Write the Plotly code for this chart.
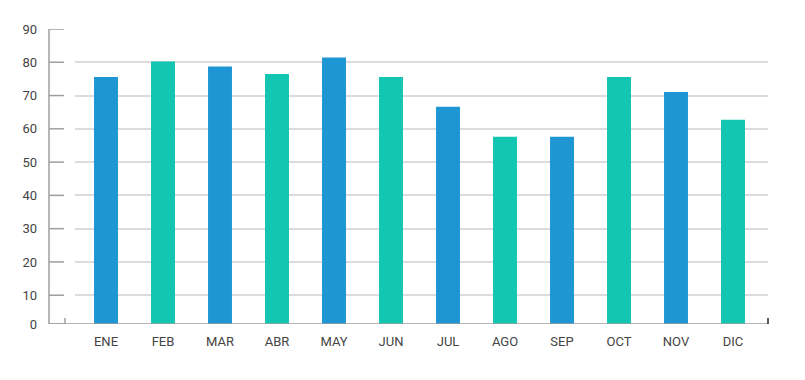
import plotly.graph_objects as go

months = ["ENE", "FEB", "MAR", "ABR", "MAY", "JUN", "JUL", "AGO", "SEP", "OCT", "NOV", "DIC"]
values = [75.6, 80.2, 78.7, 76.5, 81.4, 75.6, 66.6, 57.6, 57.6, 75.6, 71.1, 62.7]
y_ticks = [0, 10, 20, 30, 40, 50, 60, 70, 80, 90]
y_tick_labels = [str(v) for v in y_ticks]

BLUE = "#1F96D4"
TEAL = "#12C6B2"
colors = [BLUE if i % 2 == 0 else TEAL for i in range(len(months))]

OFF = 8  # default page body margin
W, H = 805, 380
PLOT_L, PLOT_R, PLOT_T, PLOT_B = 75, 768, 29, 324
L = PLOT_L - OFF
R = OFF + W - PLOT_R
T = PLOT_T - OFF
B = OFF + H - PLOT_B
PW = PLOT_R - PLOT_L
PH = PLOT_B - PLOT_T

Y_BASE = 1.35  # baseline of the drawn axis
y_min, y_max = Y_BASE, 90

fig = go.Figure(
    go.Bar(
        x=months,
        y=values,
        marker=dict(color=colors, line=dict(width=0)),
        width=0.42,
        hoverinfo="x+y",
    )
)

def px_to_paper_x(p):
    return (p - PLOT_L) / PW

tick_pos = [max(v, Y_BASE) for v in y_ticks]

shapes = []
axis_x = px_to_paper_x(49)
tick_end = px_to_paper_x(64)
# y axis line
shapes.append(dict(type="line", xref="paper", yref="y", x0=axis_x, x1=axis_x,
                   y0=y_min, y1=y_max, line=dict(color="#9e9e9e", width=1.5)))
# y axis ticks
for tp in tick_pos:
    shapes.append(dict(type="line", xref="paper", yref="y", x0=axis_x, x1=tick_end,
                       y0=tp, y1=tp, line=dict(color="#9e9e9e", width=1.5)))
# x axis line
shapes.append(dict(type="line", xref="paper", yref="y", x0=axis_x, x1=1,
                   y0=y_min, y1=y_min, line=dict(color="#9e9e9e", width=1.5)))
# small ticks at x axis ends
shapes.append(dict(type="line", xref="paper", yref="paper", x0=px_to_paper_x(65), x1=px_to_paper_x(65),
                   y0=0, y1=6 / PH, line=dict(color="#9e9e9e", width=1.5)))
shapes.append(dict(type="line", xref="paper", yref="paper", x0=1, x1=1,
                   y0=0, y1=6 / PH, line=dict(color="#222222", width=1.5)))

fig.update_layout(
    width=W, height=H,
    margin=dict(l=L, r=R, t=T, b=B, pad=0),
    paper_bgcolor="white",
    plot_bgcolor="white",
    showlegend=False,
    bargap=0.58,
    font=dict(family="Roboto, Arial, sans-serif", size=13, color="#444444"),
    shapes=shapes,
    xaxis=dict(
        range=[-0.5 - 2.5 / 57, 11.5 + 6.5 / 57],
        showgrid=False,
        showline=False,
        ticks="",
        zeroline=False,
        tickfont=dict(size=13, color="#444444"),
        ticklabelstandoff=8,
    ),
    yaxis=dict(
        range=[y_min, y_max],
        tickvals=tick_pos,
        ticktext=y_tick_labels,
        showgrid=True,
        gridcolor="#dcdcdc",
        gridwidth=1.5,
        showline=False,
        zeroline=False,
        ticks="",
        tickfont=dict(size=13, color="#444444"),
        ticklabelstandoff=37,
    ),
)

fig.write_html("out.html")
